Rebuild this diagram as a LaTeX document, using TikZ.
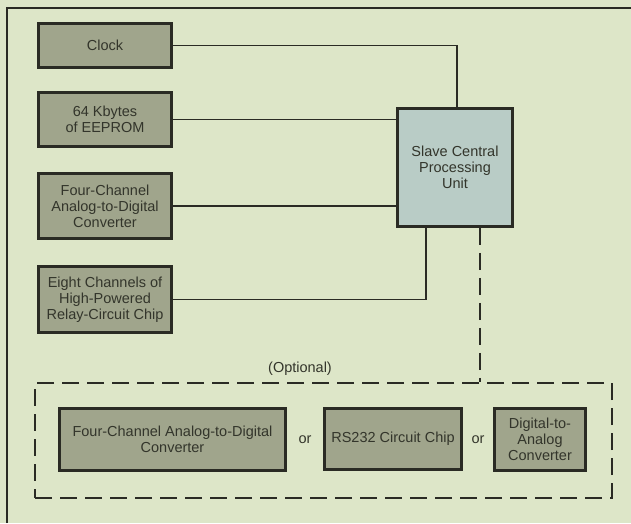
\documentclass[tikz,border=0pt]{standalone}
\usepackage{fontspec}
\setmainfont{Liberation Sans}
\usetikzlibrary{calc}
\definecolor{bgc}{HTML}{DDE6C8}
\definecolor{boxc}{HTML}{A0A58C}
\definecolor{cpuc}{HTML}{B9CCC6}
\definecolor{inkc}{HTML}{2A2B24}
\definecolor{txtc}{HTML}{33352B}
\tikzset{
  unit/.style={draw=inkc, line width=2.8pt, fill=boxc, rectangle, align=center,
    text=txtc, inner sep=0pt, font=\fontsize{14.5}{16}\selectfont},
  cpubox/.style={unit, fill=cpuc},
  wire/.style={draw=inkc, line width=1.2pt},
  dwire/.style={draw=inkc, line width=1.5pt, dash pattern=on 17pt off 8pt},
  lab/.style={text=txtc, font=\fontsize{14.5}{16}\selectfont, inner sep=0pt}
}
\begin{document}
\begin{tikzpicture}[x=1pt,y=-1pt]
\useasboundingbox (0,0) rectangle (631,523);
\fill[bgc] (0,0) rectangle (631,523);
% frame (left and top edges visible)
\draw[wire] (7,523) -- (7,8) -- (631,8);

\node[unit, minimum width=133pt, minimum height=44pt] (clock) at (105,45.5) {Clock};
\node[unit, minimum width=133pt, minimum height=54pt] (eeprom) at (105,119.5) {64 Kbytes\\of EEPROM};
\node[unit, minimum width=133pt, minimum height=65pt] (adc) at (105,206) {Four-Channel\\Analog-to-Digital\\Converter};
\node[unit, minimum width=133pt, minimum height=66pt] (relay) at (105,299.5) {Eight Channels of\\High-Powered\\Relay-Circuit Chip};
\node[cpubox, minimum width=115pt, minimum height=118pt] (cpu) at (455,167.5) {Slave Central\\Processing\\Unit};

\node[draw=inkc, line width=1.5pt, dash pattern=on 17pt off 8pt, rectangle,
  minimum width=577pt, minimum height=115pt, inner sep=0pt] (optbox) at (323.5,440.5) {};
\node[lab] (optional) at (300,369) {(Optional)};

\node[unit, minimum width=226pt, minimum height=62pt] (optadc) at (172.5,439.5) {Four-Channel Analog-to-Digital\\Converter};
\node[lab] (or1) at (305,440) {or};
\node[unit, minimum width=137pt, minimum height=61pt] (rs) at (393,439) {RS232 Circuit Chip};
\node[lab] (or2) at (478,440) {or};
\node[unit, minimum width=91pt, minimum height=62pt] (dac) at (540,439.5) {Digital-to-\\Analog\\Converter};

\coordinate (cpuclk) at ($(cpu.north)+(2,0)$);
\coordinate (cpurel) at ($(cpu.south)+(-29,0)$);
\coordinate (cpuopt) at ($(cpu.south)+(25,0)$);
\coordinate (optjoin) at (cpuopt |- optbox.north);

\draw[wire] (clock.east) -| (cpuclk);
\draw[wire] (eeprom.east) -- (cpu.west |- eeprom.east);
\draw[wire] (adc.east) -- (cpu.west |- adc.east);
\draw[wire] (relay.east) -| (cpurel);
\draw[dwire] (cpuopt) -- (optjoin);
\end{tikzpicture}
\end{document}
